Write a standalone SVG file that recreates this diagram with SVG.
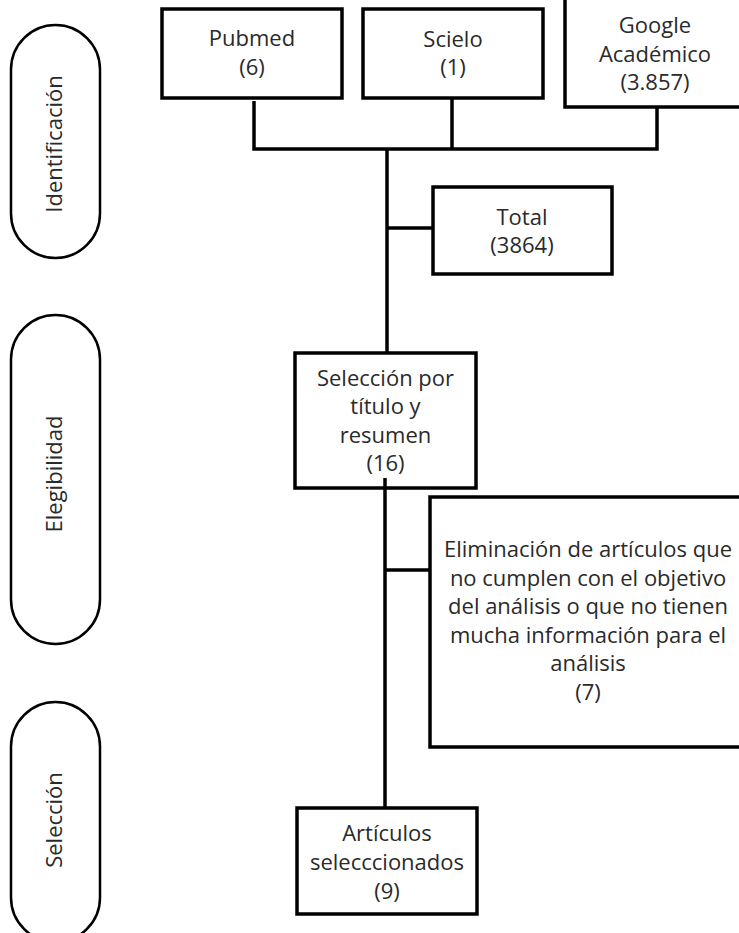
<svg xmlns="http://www.w3.org/2000/svg" width="739" height="933" viewBox="0 0 739 933">
<style>
.box{fill:#fff;stroke:#000;stroke-width:3.5}
.pill{fill:#fff;stroke:#000;stroke-width:2.5}
.line{fill:none;stroke:#000;stroke-width:3.5}
text{font-family:"Open Sans","Noto Sans",sans-serif;font-size:22px;fill:#2a2a2a;text-anchor:middle}
</style>
<rect width="739" height="933" fill="#fff"/>
<g id="phase-identificacion">
<rect class="pill" x="11" y="25" width="89" height="233" rx="44.5"/>
<text transform="translate(62,144) rotate(-90)">Identificación</text>
</g>
<g id="phase-elegibilidad">
<rect class="pill" x="11" y="315" width="89" height="329" rx="44.5"/>
<text transform="translate(62,474) rotate(-90)">Elegibilidad</text>
</g>
<g id="phase-seleccion">
<rect class="pill" x="11" y="702" width="89" height="240" rx="44.5"/>
<text transform="translate(62,820) rotate(-90)">Selección</text>
</g>
<g id="pubmed">
<rect class="box" x="162" y="9" width="180" height="89"/>
<text x="252" y="46">Pubmed</text>
<text x="252" y="75">(6)</text>
</g>
<g id="scielo">
<rect class="box" x="363" y="9" width="180" height="89"/>
<text x="453" y="47">Scielo</text>
<text x="453" y="75">(1)</text>
</g>
<g id="google">
<rect class="box" x="565" y="-10" width="190" height="117"/>
<text x="655" y="33">Google</text>
<text x="655" y="61.5">Académico</text>
<text x="655" y="90">(3.857)</text>
</g>
<g id="total">
<rect class="box" x="433" y="187" width="179" height="87"/>
<text x="522" y="225">Total</text>
<text x="522" y="252.5">(3864)</text>
</g>
<g id="seleccion-titulo">
<rect class="box" x="295" y="353" width="181" height="135"/>
<text x="385.5" y="385.5">Selección por</text>
<text x="385.5" y="414">título y</text>
<text x="385.5" y="442.5">resumen</text>
<text x="385.5" y="471">(16)</text>
</g>
<g id="eliminacion">
<rect class="box" x="430" y="497" width="330" height="250"/>
<text x="588" y="557">Eliminación de artículos que</text>
<text x="588" y="585.5">no cumplen con el objetivo</text>
<text x="588" y="614">del análisis o que no tienen</text>
<text x="588" y="642.5">mucha información para el</text>
<text x="588" y="671">análisis</text>
<text x="588" y="699.5">(7)</text>
</g>
<g id="articulos">
<rect class="box" x="297" y="808" width="180" height="106"/>
<text x="387" y="841">Artículos</text>
<text x="387" y="870">selecccionados</text>
<text x="387" y="898.5">(9)</text>
</g>
<g id="connectors">
<polyline class="line" points="254,101 254,149 657,149 657,107"/>
<line class="line" x1="452" y1="98" x2="452" y2="149"/>
<line class="line" x1="387" y1="149" x2="387" y2="353"/>
<line class="line" x1="387" y1="228" x2="433" y2="228"/>
<line class="line" x1="385" y1="478" x2="385" y2="808"/>
<line class="line" x1="385" y1="570" x2="430" y2="570"/>
</g>
</svg>
